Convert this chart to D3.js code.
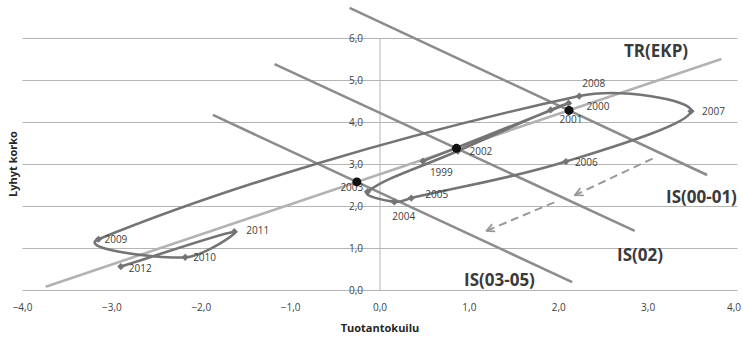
<!DOCTYPE html>
<html>
<head>
<meta charset="utf-8">
<script src="https://cdn.jsdelivr.net/npm/d3@7"></script>
<style>
  html, body { margin: 0; padding: 0; background: #fff; }
  svg { display: block; }
  text { font-family: "Open Sans", "Noto Sans", sans-serif; }
</style>
</head>
<body>
<svg id="chart" width="743" height="339"></svg>
<script>
// Output gap (x) vs short-term rate (y), euro area 1999-2012
const years   = ["1999","2000","2001","2002","2003","2004","2005","2006","2007","2008","2009","2010","2011","2012"];
const gap     = [0.48, 2.11, 1.91, 0.87, -0.14, 0.16, 0.35, 2.08, 3.48, 2.23, -3.15, -2.18, -1.63, -2.90];
const rate    = [3.08, 4.46, 4.30, 3.32, 2.35, 2.11, 2.20, 3.07, 4.27, 4.63, 1.22, 0.79, 1.40, 0.57];

// Monetary policy rule line TR(EKP): two end points
const trName = "TR(EKP)";
const trX = [-3.74, 3.82];
const trY = [0.09, 5.51];

// IS curves: start and end points
const isNames = ["IS(00-01)", "IS(02)", "IS(03-05)"];
const isYears = ["2001", "2002", "2003"];
const isX0 = [-0.34, -1.18, -1.87];
const isY0 = [6.73, 5.39, 4.18];
const isX1 = [3.66, 2.85, 2.15];
const isY1 = [2.75, 1.42, 0.20];

// Dashed shift arrows
const arrowX0 = [3.05, 1.95];
const arrowY0 = [3.14, 2.10];
const arrowX1 = [2.18, 1.19];
const arrowY1 = [2.27, 1.42];

// Axes
const xTicks = [-4, -3, -2, -1, 0, 1, 2, 3, 4];
const yTicks = [0, 1, 2, 3, 4, 5, 6];
const xTitle = "Tuotantokuilu";
const yTitle = "Lyhyt korko";

const svg = d3.select("#chart");
const x = d3.scaleLinear().domain([-4, 4]).range([22.5, 737.5]);
const y = d3.scaleLinear().domain([0, 6]).range([290.5, 38.5]);
const fmt = v => d3.format(".1f")(v).replace(".", ",");

// gridlines
svg.append("g").selectAll("line").data(yTicks).join("line")
  .attr("x1", x(-4)).attr("x2", x(4))
  .attr("y1", d => y(d)).attr("y2", d => y(d))
  .attr("stroke", "#b4b4b4").attr("stroke-width", 1);

// vertical axis through x = 0
svg.append("line")
  .attr("x1", x(0)).attr("x2", x(0))
  .attr("y1", y(6)).attr("y2", y(0))
  .attr("stroke", "#b4b4b4").attr("stroke-width", 1);

// y tick labels beside the vertical axis
svg.append("g").selectAll("text").data(yTicks).join("text")
  .attr("x", x(0) - 17).attr("y", d => y(d) + 3.5)
  .attr("text-anchor", "end").attr("font-size", 10).attr("fill", "#404040")
  .text(fmt);

// x tick labels
svg.append("g").selectAll("text").data(xTicks).join("text")
  .attr("x", d => Math.min(x(d), 734)).attr("y", 311)
  .attr("text-anchor", "middle").attr("font-size", 10).attr("fill", "#404040")
  .text(fmt);

// axis titles
svg.append("text").attr("x", x(0)).attr("y", 332)
  .attr("text-anchor", "middle").attr("font-size", 11).attr("font-weight", "bold")
  .attr("fill", "#262626").text(xTitle);
svg.append("text").attr("transform", "translate(17,164) rotate(-90)")
  .attr("text-anchor", "middle").attr("font-size", 11).attr("font-weight", "bold")
  .attr("fill", "#262626").text(yTitle);

// TR(EKP) line
svg.append("line")
  .attr("x1", x(trX[0])).attr("y1", y(trY[0]))
  .attr("x2", x(trX[1])).attr("y2", y(trY[1]))
  .attr("stroke", "#b2b2b2").attr("stroke-width", 2.6);

// IS lines
const isData = isNames.map((n, i) => ({ name: n, x0: isX0[i], y0: isY0[i], x1: isX1[i], y1: isY1[i], year: isYears[i] }));
svg.append("g").selectAll("line").data(isData).join("line")
  .attr("x1", d => x(d.x0)).attr("y1", d => y(d.y0))
  .attr("x2", d => x(d.x1)).attr("y2", d => y(d.y1))
  .attr("stroke", "#8c8c8c").attr("stroke-width", 2.6);

// dashed arrows
svg.append("defs").append("marker")
  .attr("id", "vhead").attr("viewBox", "0 0 10 10")
  .attr("refX", 9).attr("refY", 5)
  .attr("markerWidth", 10).attr("markerHeight", 10)
  .attr("markerUnits", "userSpaceOnUse")
  .attr("orient", "auto")
  .append("path").attr("d", "M1,1 L9,5 L1,9")
  .attr("fill", "none").attr("stroke", "#999").attr("stroke-width", 1.8);
svg.append("g").selectAll("line").data(arrowX0.map((v, i) => i)).join("line")
  .attr("x1", i => x(arrowX0[i])).attr("y1", i => y(arrowY0[i]))
  .attr("x2", i => x(arrowX1[i])).attr("y2", i => y(arrowY1[i]))
  .attr("stroke", "#999").attr("stroke-width", 2)
  .attr("stroke-dasharray", "8,5")
  .attr("marker-end", "url(#vhead)");

// smoothed path of the economy through the years
// (Bezier segments, tangents weighted by neighbouring chord lengths)
const pts = years.map((yr, i) => ({ year: yr, gx: gap[i], r: rate[i] }));
function smoothPath(p, k) {
  const P = p.map(d => [x(d.gx), y(d.r)]);
  const dist = (a, b) => Math.hypot(b[0] - a[0], b[1] - a[1]);
  const path = d3.path();
  path.moveTo(P[0][0], P[0][1]);
  for (let i = 0; i < P.length - 1; i++) {
    const p0 = P[Math.max(i - 1, 0)], p1 = P[i], p2 = P[i + 1], p3 = P[Math.min(i + 2, P.length - 1)];
    const d01 = dist(p0, p1), d12 = dist(p1, p2), d23 = dist(p2, p3);
    const f1 = d01 + d12 > 0 ? k * d12 / (d01 + d12) : 0;
    const f2 = d12 + d23 > 0 ? k * d12 / (d12 + d23) : 0;
    path.bezierCurveTo(
      p1[0] + f1 * (p2[0] - p0[0]), p1[1] + f1 * (p2[1] - p0[1]),
      p2[0] - f2 * (p3[0] - p1[0]), p2[1] - f2 * (p3[1] - p1[1]),
      p2[0], p2[1]);
  }
  return path.toString();
}
svg.append("path")
  .attr("d", smoothPath(pts, 0.37))
  .attr("fill", "none").attr("stroke", "#747474").attr("stroke-width", 2.6);

svg.append("g").selectAll("path").data(pts).join("path")
  .attr("transform", d => `translate(${x(d.gx)},${y(d.r)}) rotate(45)`)
  .attr("d", d3.symbol(d3.symbolSquare, 26))
  .attr("fill", "#747474");

// year labels around the path
const place = {
  "1999": [7, 15, "start"], "2000": [18, 7, "start"], "2004": [-2, 18, "start"],
  "2005": [14, 0, "start"], "2006": [9, 4, "start"], "2007": [11, 4, "start"],
  "2008": [3, -9, "start"], "2009": [6, 4, "start"], "2010": [8, 4, "start"],
  "2011": [12, 2, "start"], "2012": [8, 5, "start"]
};
svg.append("g").selectAll("text").data(pts.filter(d => place[d.year])).join("text")
  .attr("x", d => x(d.gx) + place[d.year][0])
  .attr("y", d => y(d.r) + place[d.year][1])
  .attr("text-anchor", d => place[d.year][2])
  .attr("font-size", 10).attr("fill", "#404040")
  .text(d => d.year);

// intersections of each IS curve with the policy rule
const trSlope = (trY[1] - trY[0]) / (trX[1] - trX[0]);
const cross = isData.map(d => {
  const s = (d.y1 - d.y0) / (d.x1 - d.x0);
  const cx = (trY[0] - trSlope * trX[0] - d.y0 + s * d.x0) / (s - trSlope);
  return { year: d.year, cx, cy: d.y0 + s * (cx - d.x0) };
});
const dotPlace = { "2001": [2, 13, "middle"], "2002": [13, 7, "start"], "2003": [-5, 9, "middle"] };
svg.append("g").selectAll("text").data(cross).join("text")
  .attr("x", d => x(d.cx) + dotPlace[d.year][0])
  .attr("y", d => y(d.cy) + dotPlace[d.year][1])
  .attr("text-anchor", d => dotPlace[d.year][2])
  .attr("font-size", 10).attr("fill", "#404040")
  .text(d => d.year);
svg.append("g").selectAll("circle").data(cross).join("circle")
  .attr("cx", d => x(d.cx)).attr("cy", d => y(d.cy)).attr("r", 4.5)
  .attr("fill", "#111");

// curve names
const nameStyle = s => s.attr("font-size", 17).attr("font-weight", "bold").attr("fill", "#3a3a3a");
svg.append("text").attr("x", 624).attr("y", 57).text(trName).call(nameStyle);
const nameAt = [[666, 203], [617, 261], [464, 286]];
svg.append("g").selectAll("text").data(isNames).join("text")
  .attr("x", (d, i) => nameAt[i][0]).attr("y", (d, i) => nameAt[i][1])
  .text(d => d).call(nameStyle);
</script>
</body>
</html>
